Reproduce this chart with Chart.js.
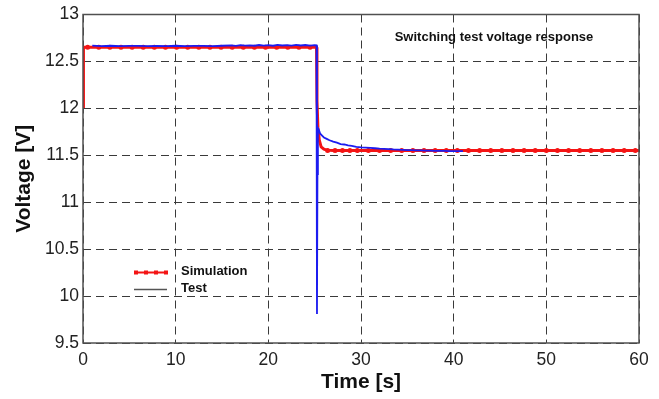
<!DOCTYPE html>
<html>
<head>
<meta charset="utf-8">
<script src="https://cdn.jsdelivr.net/npm/chart.js@4/dist/chart.umd.min.js"></script>
<style>
  html, body { margin: 0; padding: 0; background: #fff; }
  #wrap { width: 659px; height: 399px; }
</style>
</head>
<body>
<div id="wrap"><canvas id="voltChart" width="659" height="399"></canvas></div>
<script>
// simulation curve (red), break points
var simT = [0, 0.05, 25.2, 25.25, 25.35, 25.5, 25.7, 26.0, 26.3, 27.0, 60];
var simV = [12.02, 12.65, 12.65, 12.08, 11.80, 11.66, 11.59, 11.565, 11.555, 11.55, 11.55];

// simulation output samples (markers)
var markT = [0.5, 1.7, 2.9, 4.1, 5.3, 6.5, 7.7, 8.9, 10.1, 11.3, 12.5, 13.7, 14.9, 16.1, 17.3, 18.5, 19.7, 20.9, 22.1, 23.3, 24.5,
             26.4, 27.2, 28.0, 28.8, 29.6, 30.8, 32.0, 33.2, 34.4, 35.6, 36.8, 38.0, 39.2, 40.4, 41.6, 42.8, 44.0, 45.2, 46.4,
             47.6, 48.8, 50.0, 51.2, 52.4, 53.6, 54.8, 56.0, 57.2, 58.4, 59.6];
var markV = [12.65, 12.65, 12.65, 12.65, 12.65, 12.65, 12.65, 12.65, 12.65, 12.65, 12.65, 12.65, 12.65, 12.65, 12.65, 12.65, 12.65, 12.65, 12.65, 12.65, 12.65,
             11.55, 11.55, 11.55, 11.55, 11.55, 11.55, 11.55, 11.55, 11.55, 11.55, 11.55, 11.55, 11.55, 11.55, 11.55, 11.55, 11.55, 11.55, 11.55,
             11.55, 11.55, 11.55, 11.55, 11.55, 11.55, 11.55, 11.55, 11.55, 11.55, 11.55];

// measured voltage (blue)
var testT = [1.0, 2, 3, 4, 5, 6, 7, 8, 9, 10, 11, 12, 13, 14, 15, 16, 16.5, 17, 17.5, 18, 18.5, 19, 19.5, 20, 20.5, 21, 21.5, 22, 22.5,
             23, 23.5, 24, 24.5, 25, 25.2, 25.25, 25.3, 25.35, 25.45, 25.6, 25.8, 26.0, 26.3, 26.6, 27.0, 27.4, 27.8, 28.2, 28.6,
             29.0, 29.5, 30.0, 30.5, 31, 31.5, 32, 32.5, 33, 33.5, 34, 34.5, 35, 35.5, 36, 36.5, 37, 37.5, 38, 38.5, 39, 39.5, 40, 40.5, 41.0];
var testV = [12.668, 12.664, 12.667, 12.663, 12.666, 12.665, 12.662, 12.666, 12.664, 12.667, 12.663, 12.665, 12.666, 12.664, 12.667,
             12.670, 12.666, 12.674, 12.668, 12.672, 12.667, 12.675, 12.669, 12.673, 12.667, 12.676, 12.670, 12.674, 12.668, 12.677,
             12.670, 12.675, 12.669, 12.674, 12.672, 9.81, 11.30, 11.79, 11.77, 11.73, 11.71, 11.69, 11.675, 11.66, 11.645, 11.635,
             11.62, 11.615, 11.605, 11.60, 11.59, 11.585, 11.582, 11.578, 11.575, 11.57, 11.568, 11.566, 11.562, 11.56, 11.558,
             11.556, 11.555, 11.553, 11.552, 11.55, 11.549, 11.548, 11.547, 11.546, 11.545, 11.545, 11.544, 11.545];

var xTicks = [0, 10, 20, 30, 40, 50, 60];
var yTicks = [9.5, 10, 10.5, 11, 11.5, 12, 12.5, 13];

var chartTitle = 'Switching test voltage response';
var legendLabels = ['Simulation', 'Test'];

var RED = '#f41414';
var BLUE = '#1c1cf0';
var FONT = '"Liberation Sans", Arial, Helvetica, sans-serif';

function pts(xs, ys) {
  return xs.map(function (x, i) { return { x: x, y: ys[i] }; });
}

// frame, inner title and legend box
var decor = {
  id: 'decor',
  afterDraw: function (chart) {
    var c = chart.ctx, a = chart.chartArea;
    c.save();
    c.strokeStyle = '#505050';
    c.lineWidth = 1.5;
    c.setLineDash([]);
    c.strokeRect(a.left, a.top, a.right - a.left, a.bottom - a.top);

    c.fillStyle = '#111';
    c.font = 'bold 13px ' + FONT;
    c.textAlign = 'center';
    c.textBaseline = 'middle';
    c.fillText(chartTitle, a.right - 145, a.top + 23);

    // legend
    var lx = a.left + 51, ly = a.top + 258;
    c.strokeStyle = RED;
    c.lineWidth = 2;
    c.beginPath(); c.moveTo(lx, ly); c.lineTo(lx + 33, ly); c.stroke();
    c.fillStyle = RED;
    [2, 12, 22, 32].forEach(function (d) { c.fillRect(lx + d - 2, ly - 2, 4, 4); });
    c.strokeStyle = '#555';
    c.lineWidth = 1.5;
    c.beginPath(); c.moveTo(lx, ly + 17); c.lineTo(lx + 33, ly + 17); c.stroke();

    c.fillStyle = '#111';
    c.font = 'bold 13px ' + FONT;
    c.textAlign = 'left';
    c.fillText(legendLabels[0], lx + 47, ly - 1);
    c.fillText(legendLabels[1], lx + 47, ly + 16);
    c.restore();
  }
};

var ctx = document.getElementById('voltChart').getContext('2d');
new Chart(ctx, {
  type: 'scatter',
  data: {
    datasets: [
      {
        label: legendLabels[1],
        data: pts(testT, testV),
        showLine: true,
        borderColor: BLUE,
        borderWidth: 1.8,
        pointRadius: 0,
        tension: 0
      },
      {
        label: legendLabels[0],
        data: pts(simT, simV),
        showLine: true,
        borderColor: RED,
        borderWidth: 3,
        pointRadius: 0,
        tension: 0
      },
      {
        label: legendLabels[0] + ' samples',
        data: pts(markT, markV),
        showLine: false,
        pointStyle: 'circle',
        pointRadius: 2.5,
        backgroundColor: RED,
        borderColor: RED,
        borderWidth: 0
      }
    ]
  },
  options: {
    responsive: false,
    animation: false,
    layout: { padding: { top: 13, right: 20, left: 0, bottom: 0 } },
    plugins: {
      legend: { display: false },
      title: { display: false },
      tooltip: { enabled: false }
    },
    scales: {
      x: {
        type: 'linear',
        min: 0,
        max: 60,
        afterBuildTicks: function (s) { s.ticks = xTicks.map(function (v) { return { value: v }; }); },
        afterFit: function (s) { s.height = 56; },
        grid: { color: '#3a3a3a', lineWidth: 1, drawTicks: false },
        border: { display: false, dash: [8, 5] },
        ticks: {
          color: '#222', padding: 7, font: { family: FONT, size: 17.5 },
          callback: function (v) { return String(v); }
        },
        title: {
          display: true,
          text: 'Time [s]',
          color: '#111',
          font: { family: FONT, size: 21, weight: 'bold' },
          padding: { top: 0, bottom: 4 }
        }
      },
      y: {
        type: 'linear',
        min: 9.5,
        max: 13,
        afterBuildTicks: function (s) { s.ticks = yTicks.map(function (v) { return { value: v }; }); },
        afterFit: function (s) { s.width = 83; },
        grid: { color: '#3a3a3a', lineWidth: 1, drawTicks: false },
        border: { display: false, dash: [8, 5] },
        ticks: {
          color: '#222', padding: 4, font: { family: FONT, size: 17.5 },
          callback: function (v) { return String(v); }
        },
        title: {
          display: true,
          text: 'Voltage [V]',
          color: '#111',
          font: { family: FONT, size: 21, weight: 'bold' },
          padding: { top: 12, bottom: 0 }
        }
      }
    }
  },
  plugins: [decor]
});
</script>
</body>
</html>
